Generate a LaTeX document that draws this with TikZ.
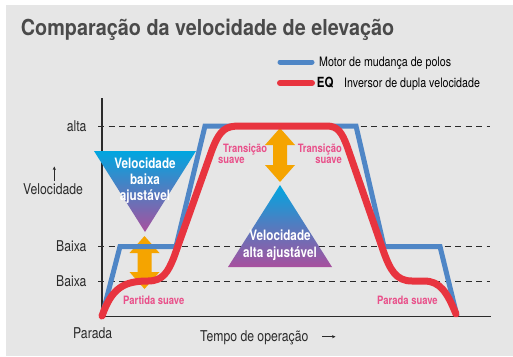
\documentclass[tikz,border=0pt]{standalone}
\usepackage{fontspec}
\setmainfont{TeX Gyre Heros}
\newfontfamily\cond[FakeStretch=0.82]{TeX Gyre Heros}
\newfontfamily\tcond[FakeStretch=0.9]{TeX Gyre Heros}
\usetikzlibrary{arrows.meta}
\definecolor{bg}{HTML}{E6E6E6}
\definecolor{bluec}{HTML}{4F86C6}
\definecolor{redc}{HTML}{E8343F}
\definecolor{orangec}{HTML}{F5A400}
\definecolor{cyanc}{HTML}{00A6E0}
\definecolor{midc}{HTML}{7A8DC9}
\definecolor{purplec}{HTML}{A8509E}
\definecolor{pinkc}{HTML}{E9508A}
\definecolor{titlec}{HTML}{4A4A4A}
\definecolor{axc}{HTML}{2B2B2B}
\begin{document}
\begin{tikzpicture}[x=1pt,y=-1pt,
 ax/.style={font=\cond\fontsize{14.9}{16}\selectfont, text=axc, inner sep=0pt},
 leg/.style={font=\cond\fontsize{13}{14}\selectfont, text=black, inner sep=0pt},
 pk/.style={font=\cond\bfseries\fontsize{11.5}{12}\selectfont, text=pinkc, inner sep=0pt},
 wt/.style={font=\cond\bfseries\fontsize{14.3}{16}\selectfont, text=white, inner sep=0pt},
 dashln/.style={axc, line width=0.9pt, dash pattern=on 6pt off 4.5pt},
 blueln/.style={bluec, line width=5pt},
 redln/.style={redc, line width=7pt, line cap=round, line join=round},
 dbl/.style={fill=orangec, draw=none},
 tri/.style={top color=cyanc, middle color=midc, bottom color=purplec},
 axln/.style={axc, line width=1.2pt},
 smallarr/.style={axc, line width=0.7pt, -{Stealth[length=3.5pt,width=3.2pt]}},
]
\useasboundingbox (0,0) rectangle (513,356);
\fill[bg] (6,5) rectangle (513,356);

% title
\node[font=\tcond\bfseries\fontsize{22}{24}\selectfont, text=titlec, inner sep=0pt, anchor=base west] (title) at (20.7,35.5) {Comparação da velocidade de elevação};

% legend
\coordinate (lb1) at (280,62); \coordinate (lb2) at (312,62);
\coordinate (lr1) at (280,83); \coordinate (lr2) at (312,83);
\draw[bluec, line width=5pt, line cap=round] (lb1) -- (lb2);
\draw[redc, line width=6pt, line cap=round] (lr1) -- (lr2);
\node[leg, anchor=base west] (legb) at (319,66.5) {Motor de mudança de polos};
\node[font=\cond\bfseries\fontsize{14}{14}\selectfont, inner sep=0pt, anchor=base west] (eq) at (316.7,87) {EQ};
\node[leg, anchor=base west] (legr) at (344,87) {Inversor de dupla velocidade};

% dashed levels
\coordinate (da1) at (98,126); \coordinate (da2) at (490,126);
\coordinate (db1) at (98,246.5); \coordinate (db2) at (490,246.5);
\coordinate (dc1) at (98,281); \coordinate (dc2) at (490,281);
\draw[dashln] (da1) -- (da2);
\draw[dashln] (db1) -- (db2);
\draw[dashln] (dc1) -- (dc2);

% axes
\coordinate (ytop) at (102,98); \coordinate (orig) at (102,316.5); \coordinate (xend) at (491,316.5);
\draw[axln] (ytop) -- (orig) -- (xend);

% axis labels
\node[ax, anchor=base east] (alta) at (86.7,131) {alta};
\node[ax, anchor=base east] (baixa1) at (86.7,251) {Baixa};
\node[ax, anchor=base east] (baixa2) at (86.7,286) {Baixa};
\node[ax, anchor=base west] (vel) at (23,194) {Velocidade};
\coordinate (vdn) at (54.3,181); \coordinate (vup) at (54.3,166.5);
\draw[smallarr] (vdn) -- (vup);
\node[ax, anchor=base west] (parada) at (73,338) {Parada};
\node[ax, anchor=base west] (tempo) at (200,341) {Tempo de operação};
\coordinate (ta1) at (322,336.7); \coordinate (ta2) at (335.5,336.7);
\draw[smallarr] (ta1) -- (ta2);

% triangles
\shade[tri] (94,151) -- (196,151) -- (145,232) -- cycle;
\shade[tri] (280,185) -- (332,267) -- (228,267) -- cycle;
\node[wt, anchor=base] (t1a) at (145,168) {Velocidade};
\node[wt, anchor=base] (t1b) at (145,184) {baixa};
\node[wt, anchor=base] (t1c) at (145,200) {ajustável};
\node[wt, anchor=base] (t2a) at (280,240.5) {Velocidade};
\node[wt, anchor=base] (t2b) at (280,257) {alta ajustável};

% orange double arrows
\fill[dbl] (144.5,236) -- (159.5,253) -- (151.5,253) -- (151.5,272) -- (159.5,272) -- (144.5,289)
 -- (129.5,272) -- (137.5,272) -- (137.5,253) -- (129.5,253) -- cycle;
\fill[dbl] (280,128) -- (295,145) -- (287,145) -- (287,165) -- (295,165) -- (280,182)
 -- (265,165) -- (273,165) -- (273,145) -- (265,145) -- cycle;

% blue curve
\draw[blueln] (102,316) -- (120,246.5) -- (176,246.5) -- (205,126) -- (356,126) -- (384,246.5) -- (440,246.5) -- (457,316);

% red curve
\draw[redln] (102,316) .. controls (112,287) and (125,281) .. (148,281)
 .. controls (163,281) and (168,272) .. (174,257) -- (212,150)
 .. controls (220,129) and (226,126) .. (240,126) -- (327,126)
 .. controls (338,126) and (342,133) .. (347,146) -- (383,250)
 .. controls (390,270) and (396,281) .. (412,281) -- (424,281)
 .. controls (440,281) and (447,292) .. (456,314);

% pink labels
\node[pk, anchor=base west] (ps) at (123,304) {Partida suave};
\node[pk, anchor=base west] (ts1a) at (223,152) {Transição};
\node[pk, anchor=base west] (ts1b) at (218,163) {suave};
\node[pk, anchor=base east] (ts2a) at (342,152) {Transição};
\node[pk, anchor=base east] (ts2b) at (342,163) {suave};
\node[pk, anchor=base west] (pas) at (377,304) {Parada suave};
\end{tikzpicture}
\end{document}
